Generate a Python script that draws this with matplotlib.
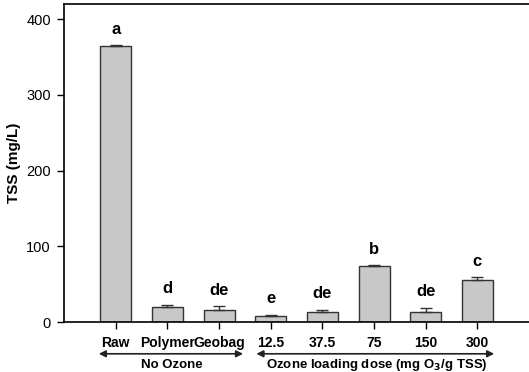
import numpy as np
import matplotlib
matplotlib.use('Agg')
import matplotlib.pyplot as plt
import matplotlib.transforms as mtransforms

plt.rcParams['font.family'] = ['Liberation Sans', 'DejaVu Sans']

# treatments and measured TSS
treatments = ['Raw', 'Polymer', 'Geobag', '12.5', '37.5', '75', '150', '300']
tss = [364, 20, 16.5, 8.3, 12.7, 73.5, 13.6, 55.5]
tss_err = [2, 3, 4, 1.5, 3.5, 1.5, 5.5, 4]
letters = ['a', 'd', 'de', 'e', 'de', 'b', 'de', 'c']

x = np.arange(len(treatments))

fig = plt.figure(figsize=(5.29, 3.72), dpi=100)
ax = fig.add_axes([64/529, 50/372, 1 - 64/529, 318/372])

ax.bar(x, tss, width=0.6, color='#c8c8c8', edgecolor='#333333', linewidth=1.0, zorder=2)
ax.errorbar(x, tss, yerr=[np.zeros(len(x)), tss_err], fmt='none', ecolor='#333333',
            elinewidth=1.0, capsize=4, capthick=1.0, zorder=3)

for xi, v, e, lab in zip(x, tss, tss_err, letters):
    ax.annotate(lab, (xi, v + e), xytext=(0, 6), textcoords='offset points',
                ha='center', va='bottom', fontsize=12, fontweight='bold')

ax.set_xlim(-1, 8)
ax.set_ylim(0, 420)
ax.set_yticks([0, 100, 200, 300, 400])
ax.set_xticks(x)
ax.set_xticklabels(treatments, fontweight='bold', fontsize=10)
ax.tick_params(axis='y', labelsize=10.5, length=5, width=1.0, direction='out', pad=4.5)
ax.tick_params(axis='x', length=5, width=1.0, direction='out', pad=5)
ax.set_ylabel('TSS (mg/L)', fontweight='bold', fontsize=11, labelpad=4)

for s in ['left', 'bottom', 'top']:
    ax.spines[s].set_linewidth(1.2)
ax.spines['right'].set_visible(False)

# group arrows below the axis
trans = mtransforms.blended_transform_factory(ax.transData, ax.transAxes)
arrow_y = -0.1
ax.annotate('', xy=(-0.38, arrow_y), xytext=(2.52, arrow_y), xycoords=trans, textcoords=trans,
            arrowprops=dict(arrowstyle='<|-|>', color='#222222', lw=1.2, mutation_scale=10),
            annotation_clip=False)
ax.annotate('', xy=(2.67, arrow_y), xytext=(7.38, arrow_y), xycoords=trans, textcoords=trans,
            arrowprops=dict(arrowstyle='<|-|>', color='#222222', lw=1.2, mutation_scale=10),
            annotation_clip=False)
ax.text(1.08, -0.135, 'No Ozone', transform=trans, ha='center', va='center',
        fontsize=9.5, fontweight='bold')
ax.text(5.05, -0.135, 'Ozone loading dose (mg O$_\\mathbf{3}$/g TSS)', transform=trans,
        ha='center', va='center', fontsize=9.5, fontweight='bold')

fig.savefig('out.png', dpi=100)
